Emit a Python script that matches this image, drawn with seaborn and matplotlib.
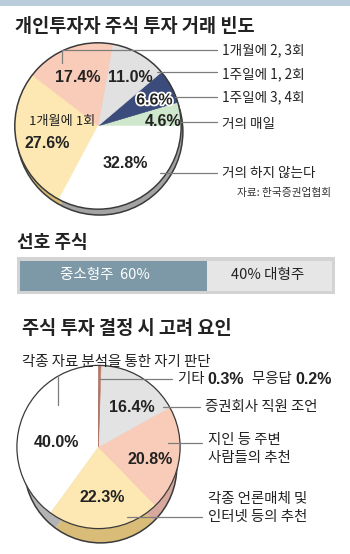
import matplotlib
matplotlib.use("Agg")
import matplotlib.pyplot as plt
import matplotlib.patheffects as pe
from matplotlib.patches import Circle, Rectangle
import pandas as pd
import seaborn as sns

# ---- data ----
freq_labels = ["거의 매일", "1주일에 3, 4회", "1주일에 1, 2회", "1개월에 2, 3회", "1개월에 1회", "거의 하지 않는다"]
freq_values = [4.6, 6.6, 11.0, 17.4, 27.6, 32.8]

pref_labels = ["중소형주", "대형주"]
pref_values = [60, 40]

factor_labels = ["각종 자료 분석을 통한 자기 판단", "각종 언론매체 및\n인터넷 등의 추천",
                 "지인 등 주변\n사람들의 추천", "증권회사 직원 조언", "기타", "무응답"]
factor_values = [40.0, 22.3, 20.8, 16.4, 0.3, 0.2]

# ---- style ----
sns.set_theme(style="white")
plt.rcParams["font.family"] = ["Noto Sans CJK KR", "DejaVu Sans"]
NUM_FONT = ["Liberation Sans", "DejaVu Sans"]

W, H = 350, 554
fig = plt.figure(figsize=(W / 100, H / 100), dpi=100)
fig.patch.set_facecolor("white")


def frac(x0, y0, x1, y1):
    return [x0 / W, 1 - y1 / H, (x1 - x0) / W, (y1 - y0) / H]


# background layer
bg = fig.add_axes([0, 0, 1, 1], zorder=0)
bg.set_xlim(0, W)
bg.set_ylim(H, 0)
bg.axis("off")
bg.add_patch(Rectangle((0, 0), W, 6, color="#b9cddb", lw=0))
bg.add_patch(Rectangle((17, 257), 318, 37, color="#d3d3d3", lw=0))

# top layer for text and leader lines
top = fig.add_axes([0, 0, 1, 1], zorder=5)
top.set_xlim(0, W)
top.set_ylim(H, 0)
top.axis("off")
top.patch.set_alpha(0)

TXT = "#222222"
LEAD = "#7d7d7d"


def pie_axes(cx, cy, rx, ry, pad=26):
    ax = fig.add_axes(frac(cx - rx - pad, cy - ry - pad, cx + rx + pad, cy + ry + pad), zorder=2)
    ax.set_xlim(-(rx + pad) / rx, (rx + pad) / rx)
    ax.set_ylim(-(ry + pad) / ry, (ry + pad) / ry)
    ax.set_aspect("auto")
    ax.axis("off")
    ax.patch.set_alpha(0)
    return ax


def draw_pie(ax, values, colors, rim_colors, startangle, dx, dy, rim_r=1.0, face_lw=1.1):
    # darker copy underneath forms the rim of the disc
    ax.pie(values, colors=rim_colors, startangle=startangle, counterclock=True,
           center=(dx, dy), radius=rim_r, wedgeprops=dict(linewidth=0))
    ax.add_patch(Circle((dx, dy), rim_r, fill=False, ec="#3a3a3a", lw=1.1))
    ax.pie(values, colors=colors, startangle=startangle, counterclock=True,
           radius=1, wedgeprops=dict(linewidth=0.4))
    for w, c in zip(ax.patches[-len(values):], colors):
        w.set_edgecolor(c)
    ax.add_patch(Circle((0, 0), 1, fill=False, ec="#3a3a3a", lw=face_lw))


num_kw = dict(family=NUM_FONT, fontsize=11.5, fontweight="bold",
              color=TXT, ha="center", va="center")

# ---- chart 1: trading frequency ----
top.text(15, 27, "개인투자자 주식 투자 거래 빈도", fontsize=13.4, fontweight="bold",
         color=TXT, va="center", ha="left")

ax1 = pie_axes(98, 126, 84, 78)
c1 = ["#cfe7cd", "#3b4b7c", "#e1e1e1", "#f9ccb9", "#fde8b3", "#ffffff"]
r1 = ["#9cb89a", "#2a3658", "#a9a9a9", "#d4a597", "#d6b974", "#a3a3a3"]
draw_pie(ax1, freq_values, c1, r1, 0, 0.02, -0.07)

pos1 = [(163.5, 121), (154.5, 100), (130.5, 78), (77.5, 78), (47, 143), (125, 164)]
for (x, y), v in zip(pos1, freq_values):
    t = top.text(x, y, f"{v:.1f}%", **num_kw)
    if v == 6.6:
        t.set_path_effects([pe.withStroke(linewidth=2.5, foreground="white")])
top.text(62, 122, freq_labels[4], fontsize=9.5, color=TXT, ha="center", va="center")

lead1 = [(178, 122, 124), (175, 97, 97.5), (157, 72, 74), (62, 50, 50), (160, 173, 173)]
right_labels = [freq_labels[0], freq_labels[1], freq_labels[2], freq_labels[3], freq_labels[5]]
for (x0, y, ty), lab in zip(lead1, right_labels):
    top.plot([x0, 217], [y, y], color=LEAD, lw=0.9)
    top.text(222, ty, lab, fontsize=9.8, color=TXT, ha="left", va="center")
top.plot([62, 62], [50, 63], color=LEAD, lw=0.9)
top.text(237, 193, "자료: 한국증권업협회", fontsize=7.7, color="#333333", ha="left", va="center")

# ---- chart 2: preferred stock ----
top.text(17, 242.5, "선호 주식", fontsize=13, fontweight="bold", color=TXT, va="center", ha="left")

axb = fig.add_axes(frac(20, 261, 332, 291), zorder=2)
pref = pd.DataFrame({"group": ["share"], "total": [sum(pref_values)], "small": [pref_values[0]]})
sns.barplot(data=pref, x="total", y="group", orient="h", color="#e6e6e6",
            width=1, saturation=1, ax=axb, linewidth=0)
sns.barplot(data=pref, x="small", y="group", orient="h", color="#7d98a7",
            width=1, saturation=1, ax=axb, linewidth=0)
axb.set_xlim(0, sum(pref_values))
axb.set_ylim(0.5, -0.5)
axb.axis("off")
top.text(105, 275.5, f"{pref_labels[0]}  {pref_values[0]}%", fontsize=10.5, color="white",
         ha="center", va="center")
top.text(268, 275.5, f"{pref_values[1]}% {pref_labels[1]}", fontsize=10.5, color=TXT,
         ha="center", va="center")

# ---- chart 3: investment decision factors ----
top.text(22, 329, "주식 투자 결정 시 고려 요인", fontsize=13.4, fontweight="bold",
         color=TXT, va="center", ha="left")

ax2 = pie_axes(98.5, 447, 84, 72, pad=30)
c2 = ["#ffffff", "#fde8b3", "#f9ccb9", "#e3e3e3", "#c0806e", "#a86a5c"]
r2 = ["#b3b3b3", "#d8bc78", "#d7a89e", "#ababab", "#9a6050", "#8a5448"]
draw_pie(ax2, factor_values, c2, r2, 90, 0.025, -0.24, rim_r=0.935, face_lw=0.9)

pos2 = [(56.5, 442.5), (102, 498), (150, 459), (132, 407.5)]
for (x, y), v in zip(pos2, factor_values[:4]):
    top.text(x, y, f"{v:.1f}%", **num_kw)

lab_kw = dict(fontsize=10.4, color=TXT, ha="left", va="center")
top.text(22, 362, factor_labels[0], **lab_kw)
top.plot([58, 58], [375, 405], color=LEAD, lw=0.9)

# "기타 0.3%  무응답 0.2%" line, laid out piece by piece
top.plot([100, 172], [379, 379], color=LEAD, lw=0.9)
fig.canvas.draw()
renderer = fig.canvas.get_renderer()


def put(x, y, s, **kw):
    t = top.text(x, y, s, **kw)
    return x + t.get_window_extent(renderer=renderer).width


small_kw = dict(family=NUM_FONT, fontsize=11.5, fontweight="bold", color=TXT, ha="left", va="center")
x = 178
x = put(x, 379.5, factor_labels[4] + " ", **lab_kw)
x = put(x, 379.5, f"{factor_values[4]}%", **small_kw) + 8
x = put(x, 379.5, factor_labels[5] + " ", **lab_kw)
put(x, 379.5, f"{factor_values[5]}%", **small_kw)

top.plot([163, 200], [407, 407], color=LEAD, lw=0.9)
top.text(205, 407, factor_labels[3], **lab_kw)

top.plot([168, 202], [443, 443], color=LEAD, lw=0.9)
top.text(208, 449, factor_labels[2], linespacing=1.45, **lab_kw)

top.plot([127, 202], [517, 517], color=LEAD, lw=0.9)
top.text(208, 508, factor_labels[1], linespacing=1.45, **lab_kw)

fig.savefig("out.png", dpi=100, facecolor="white")
